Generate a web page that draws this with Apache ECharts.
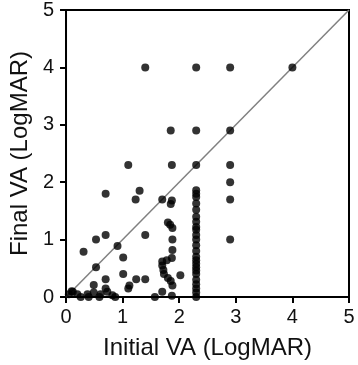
<!DOCTYPE html>
<html>
<head>
<meta charset="utf-8">
<script src="https://cdn.jsdelivr.net/npm/echarts@6/dist/echarts.min.js"></script>
<style>
  html, body { margin: 0; padding: 0; background: #fff; }
  #chart { width: 358px; height: 365px; }
</style>
</head>
<body>
<div id="chart"></div>
<script>
// initial vs final visual acuity (LogMAR), one entry per eye
var initialVA = [
  1.4, 2.3, 2.9, 4.0,
  1.85, 2.3, 2.9,
  1.1, 1.87, 2.3, 2.9, 2.9, 2.9, 2.9,
  0.7, 1.3, 1.23, 1.7, 1.87, 1.85,
  1.8, 1.84, 1.88, 1.88, 1.88, 1.87, 1.7, 1.78, 1.7, 1.72, 1.73, 2.02, 1.8, 1.85, 1.88, 1.7, 1.87, 1.57,
  0.31, 0.53, 0.7, 1.4, 0.91, 1.01, 0.53, 1.01, 0.7, 1.24, 1.4, 1.12, 1.1, 0.49, 0.7,
  0.05, 0.12, 0.2, 0.26, 0.38, 0.49, 0.61, 0.73, 0.82, 0.87, 0.4, 0.59, 0.1,
  2.3, 2.3, 2.3, 2.3, 2.3, 2.3, 2.3, 2.3, 2.3, 2.3, 2.3, 2.3,
  2.3, 2.3, 2.3, 2.3, 2.3, 2.3, 2.3, 2.3, 2.3, 2.3, 2.3, 2.3
];
var finalVA = [
  4.0, 4.0, 4.0, 4.0,
  2.9, 2.9, 2.9,
  2.3, 2.3, 2.3, 2.3, 2.0, 1.7, 1.0,
  1.8, 1.85, 1.7, 1.7, 1.68, 1.62,
  1.3, 1.26, 1.2, 1.0, 0.82, 0.68, 0.62, 0.64, 0.55, 0.47, 0.4, 0.38, 0.33, 0.28, 0.2, 0.09, 0.02, 0.0,
  0.79, 1.0, 1.08, 1.08, 0.89, 0.69, 0.52, 0.4, 0.31, 0.31, 0.31, 0.2, 0.15, 0.21, 0.15,
  0.05, 0.09, 0.05, 0.0, 0.05, 0.08, 0.05, 0.09, 0.03, 0.0, 0.0, 0.0, 0.1,
  1.86, 1.8, 1.74, 1.63, 1.52, 1.4, 1.31, 1.22, 1.17, 1.08, 1.0, 0.9,
  0.8, 0.7, 0.64, 0.58, 0.52, 0.46, 0.4, 0.3, 0.22, 0.15, 0.08, 0.0
];
var axisMax = 5;
var identityLine = [[0, 0], [5, 5]];

var points = initialVA.map(function (x, i) { return [x, finalVA[i]]; });

var myChart = echarts.init(document.getElementById('chart'));
var font = 'Liberation Sans, Arial, sans-serif';
myChart.setOption({
  animation: false,
  grid: {
    left: 63, right: 9, top: 10, bottom: 68,
    show: true, borderColor: '#000', borderWidth: 2
  },
  xAxis: {
    type: 'value', min: 0, max: axisMax, interval: 1,
    name: 'Initial VA (LogMAR)', nameLocation: 'middle', nameGap: 39,
    nameTextStyle: { color: '#111', fontSize: 24, fontFamily: font },
    axisLine: { show: true, lineStyle: { color: '#000', width: 2 } },
    axisTick: { show: true, inside: false, length: 6, lineStyle: { color: '#000', width: 2 } },
    axisLabel: { color: '#111', fontSize: 20, fontFamily: font, margin: 10 },
    splitLine: { show: false }
  },
  yAxis: {
    type: 'value', min: 0, max: axisMax, interval: 1,
    name: 'Final VA (LogMAR)', nameLocation: 'middle', nameGap: 34,
    nameTextStyle: { color: '#111', fontSize: 24, fontFamily: font },
    axisLine: { show: true, lineStyle: { color: '#000', width: 2 } },
    axisTick: { show: true, inside: false, length: 6, lineStyle: { color: '#000', width: 2 } },
    axisLabel: { color: '#111', fontSize: 20, fontFamily: font, margin: 12 },
    splitLine: { show: false }
  },
  series: [
    {
      type: 'line',
      data: identityLine,
      symbol: 'none',
      silent: true,
      lineStyle: { color: '#808080', width: 1.5 },
      z: 1
    },
    {
      type: 'scatter',
      data: points,
      symbol: 'circle',
      symbolSize: 8,
      itemStyle: { color: '#000' },
      z: 2
    }
  ]
});
</script>
</body>
</html>
